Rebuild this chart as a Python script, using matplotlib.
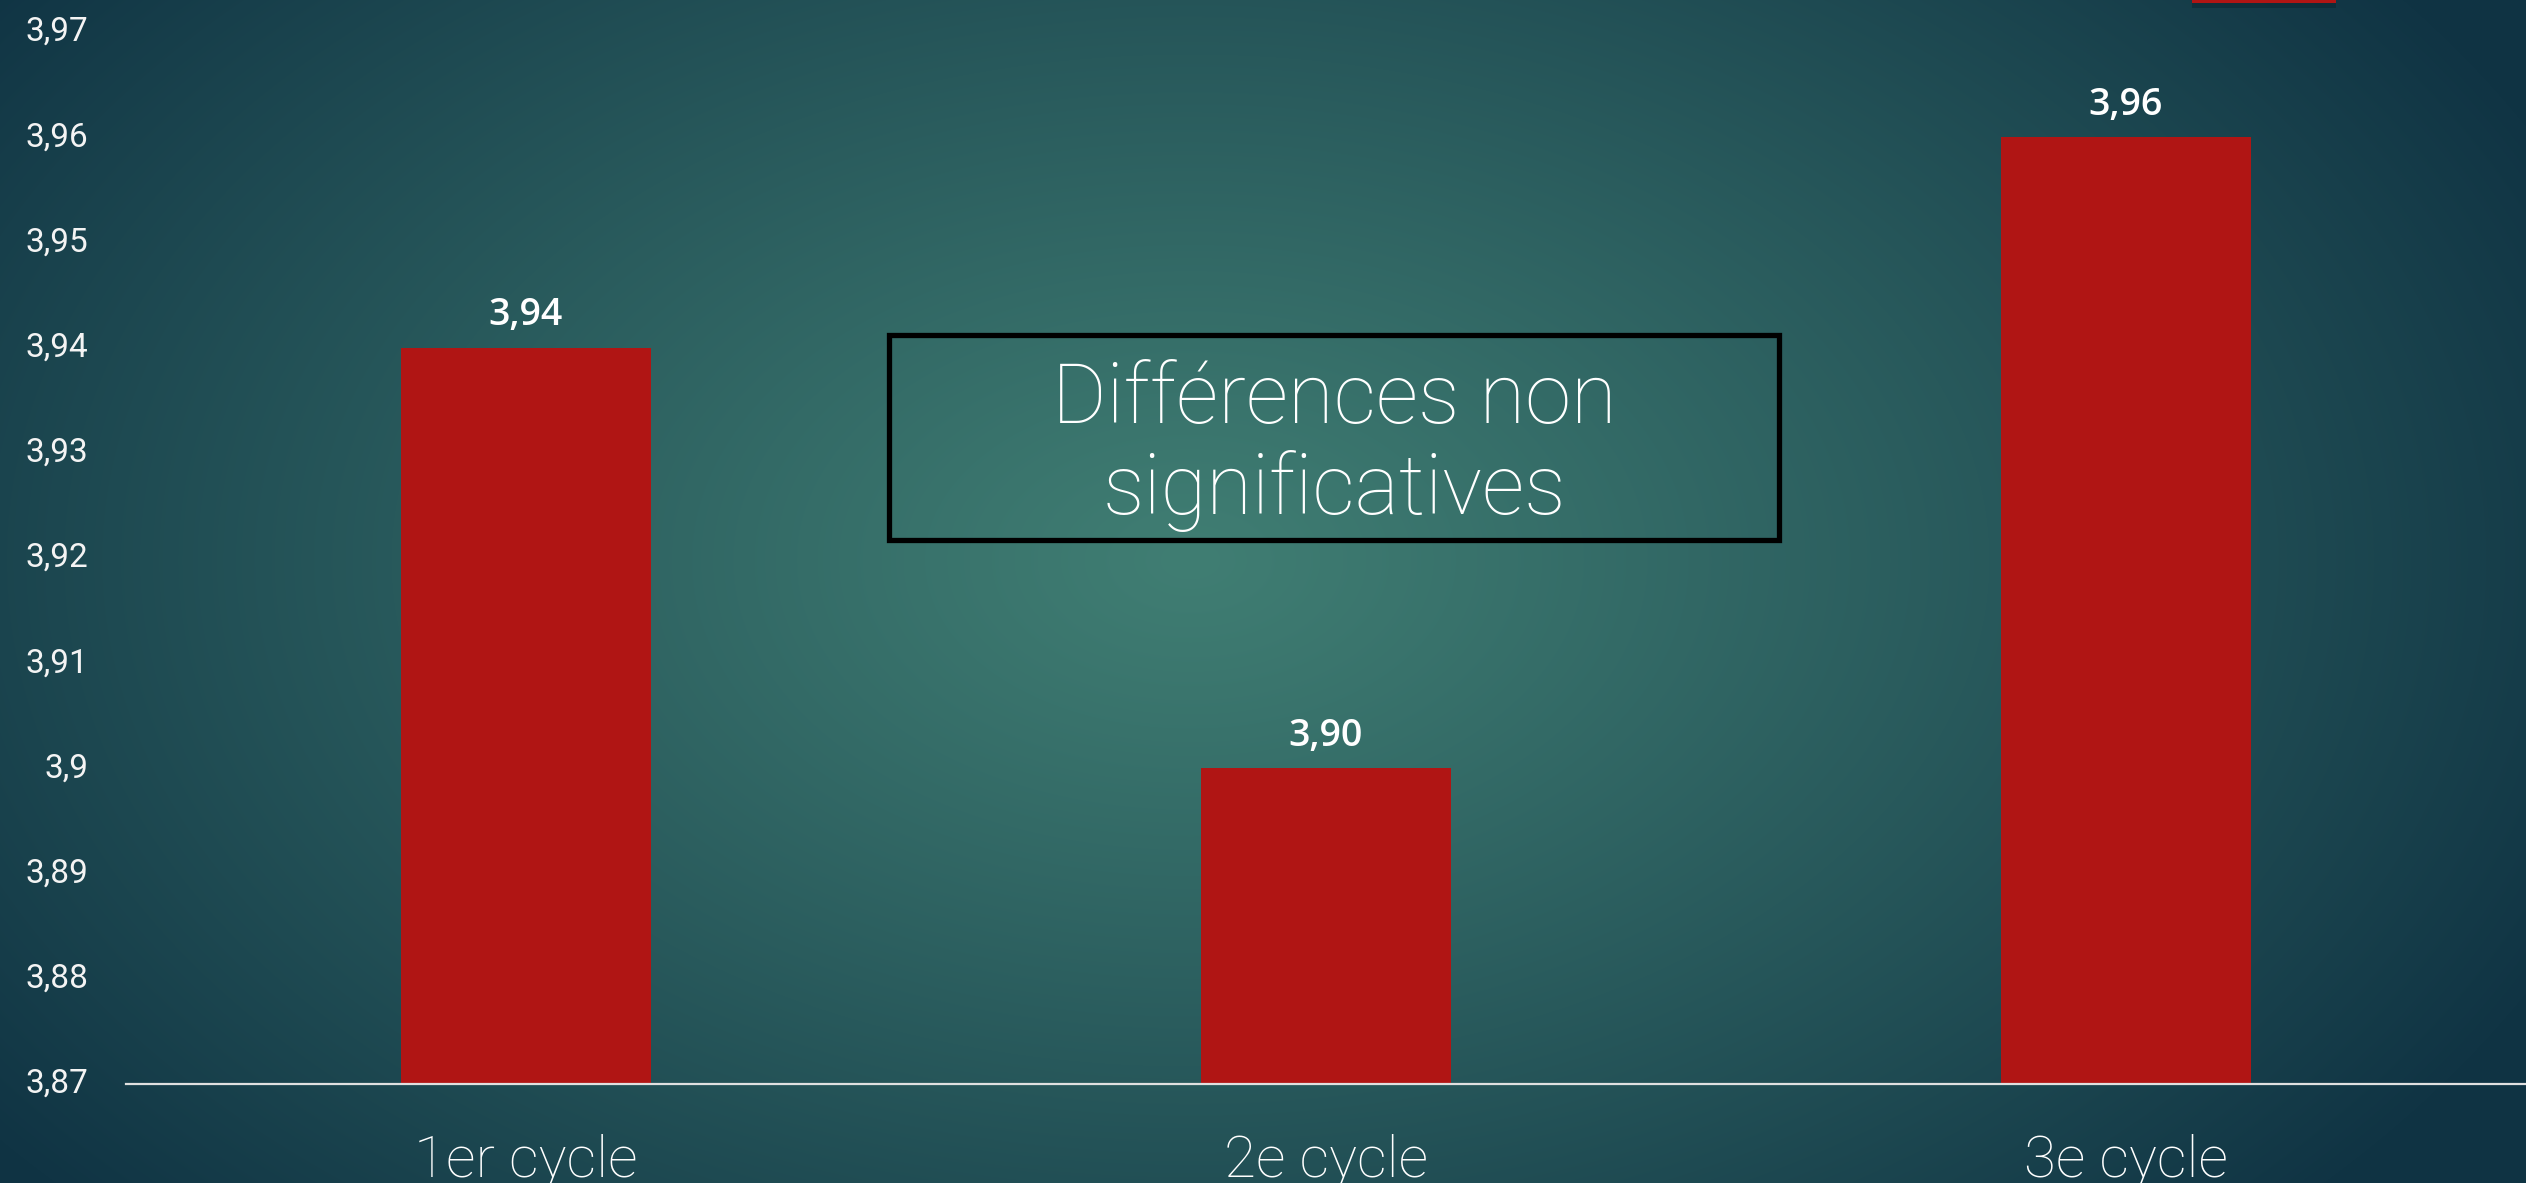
import numpy as np
import matplotlib
matplotlib.use("Agg")
import matplotlib.pyplot as plt
from matplotlib.patches import Rectangle

categories = ['1er cycle', '2e cycle', '3e cycle']
values = [3.94, 3.90, 3.96]
value_labels = ['3,94', '3,90', '3,96']
yticks = [3.87, 3.88, 3.89, 3.90, 3.91, 3.92, 3.93, 3.94, 3.95, 3.96, 3.97]
ytick_labels = ['3,87', '3,88', '3,89', '3,9', '3,91', '3,92', '3,93',
                '3,94', '3,95', '3,96', '3,97']
note = 'Différences non\nsignificatives'

LIGHT = 'Roboto'

W, H = 2526, 1183
fig = plt.figure(figsize=(W / 100, H / 100), dpi=100)

# radial teal background
bg = fig.add_axes([0, 0, 1, 1], zorder=-10)
yy, xx = np.mgrid[0:H, 0:W]
r = np.sqrt(((xx - 1190) / 1500.0) ** 2 + ((yy - 560) / 950.0) ** 2)
r = np.clip(r, 0, 1) ** 1.1
c_in = np.array([64, 126, 115]) / 255.0
c_out = np.array([16, 52, 68]) / 255.0
img = c_in[None, None, :] * (1 - r[..., None]) + c_out[None, None, :] * r[..., None]
bg.imshow(img, aspect='auto', extent=[0, 1, 0, 1], origin='upper')
bg.axis('off')

ax = fig.add_axes([126 / W, 1 - 1084 / H, 1 - 126 / W, (1084 - 32) / H])
ax.patch.set_alpha(0)
x = np.arange(len(categories))
ax.bar(x, values, width=0.313, color='#B01514', bottom=0)
ax.set_xlim(-0.5, 2.5)
ax.set_ylim(3.87, 3.97)

for s in ['top', 'right', 'left']:
    ax.spines[s].set_visible(False)
ax.spines['bottom'].set_color('#E0E0E0')
ax.spines['bottom'].set_linewidth(1.6)
ax.spines['bottom'].set_zorder(5)

ax.set_yticks(yticks)
ax.set_yticklabels(ytick_labels, family=LIGHT, fontweight='normal',
                   fontsize=24, color='#F4F4F4')
ax.tick_params(axis='y', length=0, pad=27)
for t in ax.get_yticklabels():
    t.set_verticalalignment('center')

ax.set_xticks(x)
ax.set_xticklabels([])
ax.tick_params(axis='x', length=0)
for xi, name in zip(x, categories):
    ax.text(xi, -0.088, name, transform=ax.get_xaxis_transform(),
            ha='center', va='baseline', family=LIGHT, fontweight='light',
            fontsize=42, color='white', clip_on=False)

for xi, v, lab in zip(x, values, value_labels):
    ax.annotate(lab, (xi, v), xytext=(0, 16), textcoords='offset points',
                ha='center', va='baseline', family='Open Sans',
                fontweight='semibold', fontsize=27, color='white')

# note box
fig.patches.append(Rectangle((889 / W, 1 - 540 / H), 890 / W, 205 / H,
                             transform=fig.transFigure, fill=False,
                             edgecolor='black', linewidth=3.8, zorder=6))
fig.text(1334 / W, 1 - 446 / H, note, ha='center', va='center',
         family=LIGHT, fontweight='light', fontsize=60, color='white',
         linespacing=1.15, zorder=7)

# red tab at the top edge
fig.patches.append(Rectangle((2192 / W, 1 - 8 / H), 144 / W, 12 / H,
                             transform=fig.transFigure, facecolor='#0b2530',
                             edgecolor='none', alpha=0.5, zorder=5))
fig.patches.append(Rectangle((2192 / W, 1 - 3 / H), 144 / W, 5 / H,
                             transform=fig.transFigure, facecolor='#B01514',
                             edgecolor='none', zorder=6))

fig.savefig('out.png', dpi=100)
